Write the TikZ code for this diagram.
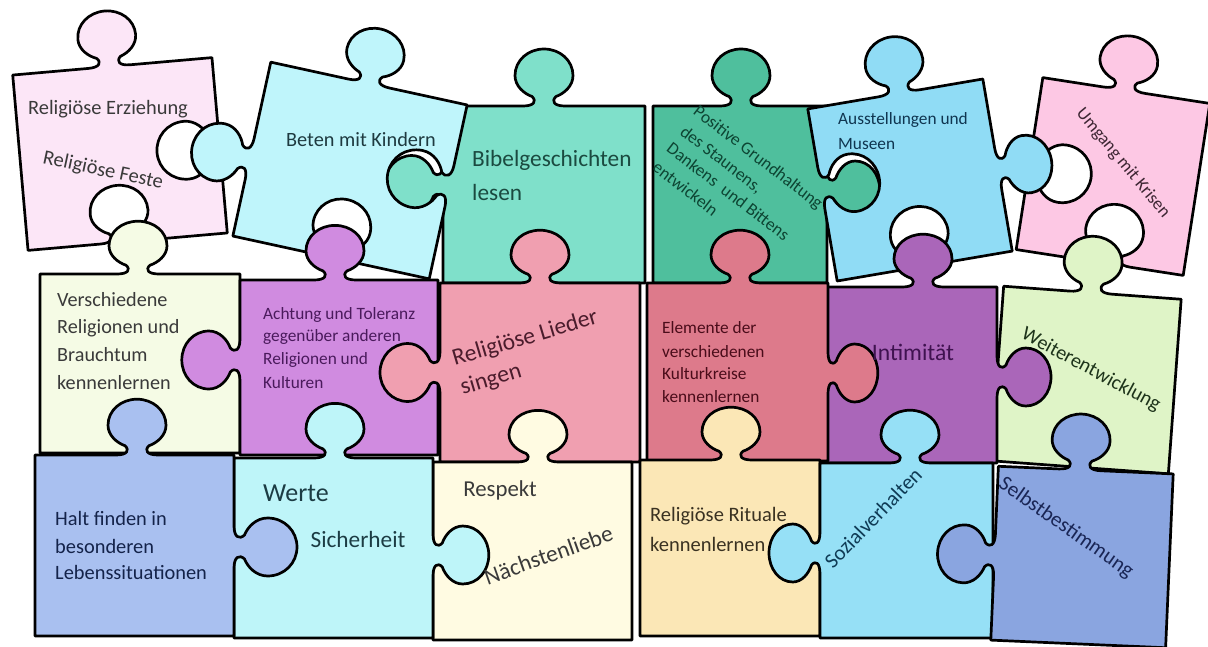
\documentclass[tikz,border=0pt]{standalone}
\usepackage{fontspec}
\setmainfont{Carlito}
\newcommand\fs[1]{\fontsize{#1}{#1}\selectfont}
% tab profile: #1 map, #2 centre along edge, #3 signed scale (+ tab, - blank)
\newcommand\prof[3]{ -- #1{#2}{#3}{-21}{0}
 .. controls #1{#2}{#3}{-10}{0} and #1{#2}{#3}{-7}{5} .. #1{#2}{#3}{-12}{10}
 .. controls #1{#2}{#3}{-20}{13} and #1{#2}{#3}{-29}{21} .. #1{#2}{#3}{-29}{32}
 .. controls #1{#2}{#3}{-29}{48} and #1{#2}{#3}{-16}{60} .. #1{#2}{#3}{0}{60}
 .. controls #1{#2}{#3}{16}{60} and #1{#2}{#3}{29}{48} .. #1{#2}{#3}{29}{32}
 .. controls #1{#2}{#3}{29}{21} and #1{#2}{#3}{20}{13} .. #1{#2}{#3}{12}{10}
 .. controls #1{#2}{#3}{7}{5} and #1{#2}{#3}{10}{0} .. #1{#2}{#3}{21}{0} }
\def\mT#1#2#3#4{({(#1)+(#3)},{-\pcB-(#2)*(#4)})}
\def\mR#1#2#3#4{({\pcA+(#2)*(#4)},{(#1)+(#3)})}
\def\mB#1#2#3#4{({(#1)-(#3)},{\pcB+(#2)*(#4)})}
\def\mL#1#2#3#4{({-\pcA-(#2)*(#4)},{(#1)-(#3)})}
\newcommand\eT[2]{\prof\mT{#1}{#2}}
\newcommand\eR[2]{\prof\mR{#1}{#2}}
\newcommand\eB[2]{\prof\mB{#1}{#2}}
\newcommand\eL[2]{\prof\mL{#1}{#2}}
\newcommand\piece[7]{%
  \def\pcA{#2}\def\pcB{#3}%
  \edef\pcpath{(-\pcA,-\pcB) #4 -- (\pcA,-\pcB) #5 -- (\pcA,\pcB) #6 -- (-\pcA,\pcB) #7 -- cycle}%
  \filldraw[pc, fill=#1] \pcpath;}
\definecolor{c1}{HTML}{FCE6F7}
\definecolor{c2}{HTML}{BFF5FB}
\definecolor{c3}{HTML}{7FE0CA}
\definecolor{c4}{HTML}{4FBF9D}
\definecolor{c5}{HTML}{90DCF5}
\definecolor{c6}{HTML}{FDC8E4}
\definecolor{c7}{HTML}{F5FBE5}
\definecolor{c8}{HTML}{D08BE0}
\definecolor{c9}{HTML}{F09FB0}
\definecolor{c10}{HTML}{DD7A8B}
\definecolor{c11}{HTML}{AA66B9}
\definecolor{c12}{HTML}{DFF4C7}
\definecolor{c13}{HTML}{A9C0F0}
\definecolor{c14}{HTML}{BEF5F9}
\definecolor{c15}{HTML}{FFFBE2}
\definecolor{c16}{HTML}{FBE7B6}
\definecolor{c17}{HTML}{96E0F6}
\definecolor{c18}{HTML}{8AA5E0}
\definecolor{t1}{HTML}{3A3A3A}
\definecolor{t2}{HTML}{1E3A40}
\definecolor{t3}{HTML}{1B4A40}
\definecolor{t4}{HTML}{0D4533}
\definecolor{t5}{HTML}{0F3550}
\definecolor{t6}{HTML}{3D2633}
\definecolor{t8}{HTML}{4A1A5C}
\definecolor{t9}{HTML}{4B1C2C}
\definecolor{t10}{HTML}{4A0C1A}
\definecolor{t11}{HTML}{3F1250}
\definecolor{t12}{HTML}{1D331A}
\definecolor{t13}{HTML}{14234A}
\definecolor{t14}{HTML}{1C3C44}
\definecolor{t16}{HTML}{3A3222}
\definecolor{t17}{HTML}{0F3B55}
\definecolor{t18}{HTML}{1A2655}
\begin{document}
\begin{tikzpicture}[x=1pt,y=-1pt,
  pc/.style={draw=black, line width=2.7pt, line join=round},
  lbl/.style={inner sep=0pt}]
\useasboundingbox (0,0) rectangle (1208,646);
\fill[white] (0,0) rectangle (1208,646);
% ---------- row 1
\begin{scope}[shift={(120,154)},rotate=5]\piece{c1}{100}{88}{\eT{-3}{0.93}}{\eR{2}{-1.05}}{\eB{-6}{-0.95}}{}\end{scope}
\begin{scope}[shift={(544,194.5)}]\piece{c3}{101}{88.5}{\eT{0}{0.95}}{}{}{\eL{-10}{0.97}}\end{scope}
\begin{scope}[shift={(350,170.5)},rotate=-12.3]\piece{c2}{100.5}{89}{\eT{0}{0.93}}{\eR{-6}{-1.05}}{\eB{4}{-1.0}}{\eL{10}{0.98}}\end{scope}
\begin{scope}[shift={(740,194.5)}]\piece{c4}{87}{88.5}{\eT{1}{0.95}}{\eR{-4.5}{0.88}}{}{}\end{scope}
\begin{scope}[shift={(1113,176.5)},rotate=-8.8]\piece{c6}{84.5}{87}{\eT{-2}{0.91}}{}{\eB{10}{-1.0}}{\eL{5}{-1.05}}\end{scope}
\begin{scope}[shift={(910,180)},rotate=9.7]\piece{c5}{88.8}{87.3}{\eT{4}{0.95}}{\eR{4}{0.9}}{\eB{0}{-1.0}}{\eL{-7}{-0.98}}\end{scope}
% ---------- row 2
\begin{scope}[shift={(140,363.5)}]\piece{c7}{100}{89.5}{\eT{-2}{0.88}}{}{}{}\end{scope}
\begin{scope}[shift={(339,367.5)}]\piece{c8}{99}{87.5}{\eT{-4}{0.91}}{}{}{\eL{-7.5}{0.97}}\end{scope}
\begin{scope}[shift={(540,372.5)}]\piece{c9}{100}{89.5}{\eT{0}{0.88}}{}{}{\eL{0}{1.0}}\end{scope}
\begin{scope}[shift={(1086,380)},rotate=-4.2]\piece{c12}{89}{87.5}{\eT{-1.5}{0.94}}{}{}{}\end{scope}
\begin{scope}[shift={(911,375)}]\piece{c11}{86}{88}{\eT{12}{0.88}}{\eR{2}{0.9}}{}{}\end{scope}
\begin{scope}[shift={(737.5,372)}]\piece{c10}{90.5}{89}{\eT{2.5}{0.88}}{\eR{1}{0.83}}{}{}\end{scope}
% ---------- row 3
\begin{scope}[shift={(532.5,551)}]\piece{c15}{99.5}{89}{\eT{5.5}{0.86}}{}{}{}\end{scope}
\begin{scope}[shift={(333.5,548)}]\piece{c14}{99.5}{90}{\eT{1.5}{0.91}}{\eR{7}{0.93}}{}{}\end{scope}
\begin{scope}[shift={(134.5,545.5)}]\piece{c13}{99.5}{90.5}{\eT{2.5}{0.93}}{\eR{1.5}{1.05}}{}{}\end{scope}
\begin{scope}[shift={(730,548)}]\piece{c16}{90}{88}{\eT{1}{0.88}}{}{}{}\end{scope}
\begin{scope}[shift={(906.5,550.5)}]\piece{c17}{86.5}{87.5}{\eT{3.5}{0.88}}{}{}{\eL{2.5}{0.85}}\end{scope}
\begin{scope}[shift={(1082,557)},rotate=-2.5]\piece{c18}{87.5}{87}{\eT{-6}{0.93}}{}{}{\eL{2}{0.95}}\end{scope}
% ---------- texts
\node[lbl,text=t1,font=\fs{20.4}] (t1a) at (108,109) {Religiöse Erziehung};
\node[lbl,text=t1,font=\fs{20.5},rotate=-12] (t1b) at (103,171) {Religiöse Feste};
\node[lbl,text=t2,font=\fs{20.3}] (t2) at (361,140) {Beten mit Kindern};
\node[lbl,text=t3,font=\fs{23.3},anchor=west] (t3a) at (472,160) {Bibelgeschichten};
\node[lbl,text=t3,font=\fs{23.3},anchor=west] (t3b) at (472,192) {lesen};
\begin{scope}[every node/.style={lbl,text=t4,font=\fs{17.5},anchor=west,rotate=-37.5}]
\node (t4a) at (695,110) {Positive Grundhaltung};
\node (t4b) at (682,130) {des Staunens,};
\node (t4c) at (669,146) {Dankens\ \ und Bittens};
\node (t4d) at (655,165) {entwickeln};
\end{scope}
\node[lbl,text=t5,font=\fs{17.3},anchor=west] (t5a) at (838,120) {Ausstellungen und};
\node[lbl,text=t5,font=\fs{17.3},anchor=west] (t5b) at (838,144) {Museen};
\node[lbl,text=t6,font=\fs{17.8},rotate=-50.4] (t6) at (1123,163) {Umgang mit Krisen};
\begin{scope}[every node/.style={lbl,text=t1,font=\fs{20.2},anchor=west}]
\node (t7a) at (57,300) {Verschiedene};
\node (t7b) at (57,328) {Religionen und};
\node (t7c) at (57,355) {Brauchtum};
\node (t7d) at (57,383) {kennenlernen};
\end{scope}
\begin{scope}[every node/.style={lbl,text=t8,font=\fs{17.3},anchor=west}]
\node (t8a) at (263,315) {Achtung und Toleranz};
\node (t8b) at (263,337) {gegenüber anderen};
\node (t8c) at (263,360) {Religionen und};
\node (t8d) at (263,383) {Kulturen};
\end{scope}
\node[lbl,text=t9,font=\fs{23.7},anchor=west,rotate=16.5] (t9a) at (453,360) {Religiöse Lieder};
\node[lbl,text=t9,font=\fs{23.7},anchor=west,rotate=16.5] (t9b) at (461,389) {singen};
\begin{scope}[every node/.style={lbl,text=t10,font=\fs{17.3},anchor=west}]
\node (t10a) at (662,328) {Elemente der};
\node (t10b) at (662,352) {verschiedenen};
\node (t10c) at (662,374) {Kulturkreise};
\node (t10d) at (662,397) {kennenlernen};
\end{scope}
\node[lbl,text=t11,font=\fs{23.6}] (t11) at (913,352) {Intimität};
\node[lbl,text=t12,font=\fs{20.2},rotate=-28.4] (t12) at (1091,370) {Weiterentwicklung};
\begin{scope}[every node/.style={lbl,text=t13,font=\fs{20.4},anchor=west}]
\node (t13a) at (55,518) {Halt finden in};
\node (t13b) at (55,546) {besonderen};
\node (t13c) at (55,572) {Lebenssituationen};
\end{scope}
\node[lbl,text=t14,font=\fs{26}] (t14a) at (296,493) {Werte};
\node[lbl,text=t14,font=\fs{23.3}] (t14b) at (358,539) {Sicherheit};
\node[lbl,text=t1,font=\fs{22.8}] (t15a) at (500,490) {Respekt};
\node[lbl,text=t1,font=\fs{23.3},rotate=19.5] (t15b) at (548.5,555) {Nächstenliebe};
\node[lbl,text=t16,font=\fs{20.5},anchor=west] (t16a) at (650,516) {Religiöse Rituale};
\node[lbl,text=t16,font=\fs{20.5},anchor=west] (t16b) at (650,544) {kennenlernen};
\node[lbl,text=t17,font=\fs{21},rotate=46] (t17) at (873,518) {Sozialverhalten};
\node[lbl,text=t18,font=\fs{21.2},rotate=-35] (t18) at (1066,528) {Selbstbestimmung};
\end{tikzpicture}
\end{document}
